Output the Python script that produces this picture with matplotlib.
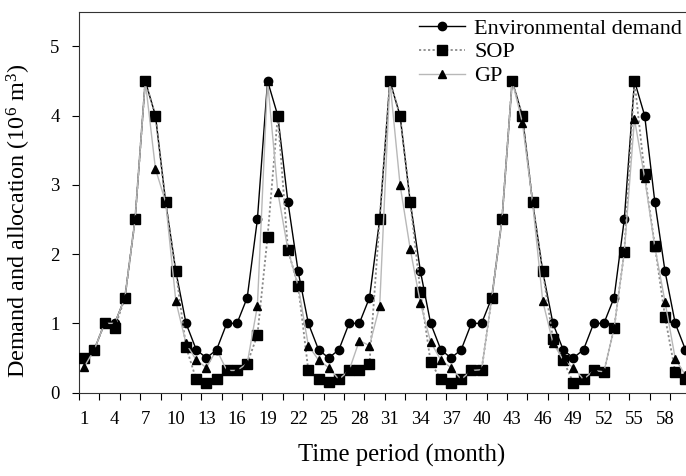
import matplotlib
matplotlib.use("Agg")
import matplotlib.pyplot as plt
import numpy as np

plt.rcParams['font.family'] = ['Liberation Serif', 'DejaVu Serif']
plt.rcParams['mathtext.fontset'] = 'custom'
plt.rcParams['mathtext.rm'] = 'Liberation Serif'
plt.rcParams['mathtext.it'] = 'Liberation Serif:italic'

months = list(range(1, 61))

demand = [0.5, 0.62, 1.0, 1.0, 1.37, 2.5, 4.5, 4.0, 2.75, 1.75, 1.0, 0.62,
          0.5, 0.62, 1.0, 1.0, 1.37, 2.5, 4.5, 4.0, 2.75, 1.75, 1.0, 0.62,
          0.5, 0.62, 1.0, 1.0, 1.37, 2.5, 4.5, 4.0, 2.75, 1.75, 1.0, 0.62,
          0.5, 0.62, 1.0, 1.0, 1.37, 2.5, 4.5, 4.0, 2.75, 1.75, 1.0, 0.62,
          0.5, 0.62, 1.0, 1.0, 1.37, 2.5, 4.5, 4.0, 2.75, 1.75, 1.0, 0.62]

sop = [0.5, 0.62, 1.0, 0.93, 1.37, 2.5, 4.5, 4.0, 2.75, 1.75, 0.66, 0.19,
       0.14, 0.19, 0.32, 0.32, 0.42, 0.83, 2.25, 4.0, 2.06, 1.54, 0.32, 0.19,
       0.15, 0.19, 0.32, 0.32, 0.42, 2.5, 4.5, 4.0, 2.75, 1.45, 0.44, 0.19,
       0.14, 0.19, 0.32, 0.33, 1.37, 2.5, 4.5, 4.0, 2.75, 1.75, 0.78, 0.47,
       0.14, 0.19, 0.32, 0.30, 0.93, 2.03, 4.5, 3.15, 2.12, 1.09, 0.30, 0.20]

gp = [0.37, 0.62, 1.0, 1.0, 1.37, 2.5, 4.5, 3.23, 2.75, 1.32, 0.71, 0.47,
      0.36, 0.62, 0.32, 0.32, 0.42, 1.25, 4.5, 2.9, 2.06, 1.54, 0.68, 0.47,
      0.36, 0.19, 0.32, 0.75, 0.68, 1.25, 4.5, 3.0, 2.07, 1.29, 0.73, 0.47,
      0.36, 0.19, 0.32, 0.33, 1.37, 2.5, 4.5, 3.9, 2.75, 1.32, 0.72, 0.47,
      0.36, 0.19, 0.32, 0.30, 0.93, 2.03, 3.95, 3.1, 2.1, 1.31, 0.49, 0.25]

label_months = list(range(1, 60, 3))

fig = plt.figure(figsize=(6.86, 4.76), dpi=100)
ax = fig.add_axes([0.1152, 0.1752, 0.8914, 0.8002])

ax.plot(months, demand, color='black', lw=1.0, marker='o', ms=6,
        mfc='black', mec='black', label='Environmental demand', zorder=3)
ax.plot(months, sop, color='#8a8a8a', lw=1.3, ls=(0, (1.2, 1.3)), marker='s', ms=6.5,
        mfc='black', mec='black', label='SOP', zorder=4)
ax.plot(months, gp, color='#b8b8b8', lw=1.0, marker='^', ms=5.5,
        mfc='black', mec='black', label='GP', zorder=5)

ax.set_xlim(0.5, 60.5)
ax.set_ylim(0, 5.5)
ax.set_xticks(label_months)
ax.set_xticklabels([str(m) for m in label_months])
ax.set_xticks(np.arange(0.5, 61, 2), minor=True)
ax.tick_params(axis='x', which='major', length=0, pad=13, labelsize=13.5)
ax.tick_params(axis='x', which='minor', length=5, width=0.8, direction='out')
ax.set_yticks([0, 1, 2, 3, 4, 5])
ax.tick_params(axis='y', which='major', length=5, width=0.8, direction='out', labelsize=13.5, pad=9)

for s in ax.spines.values():
    s.set_linewidth(0.8)
    s.set_color('#333333')

ax.set_xlabel('Time period (month)', fontsize=17.8)
ax.xaxis.set_label_coords(0.528, -0.135)
ax.set_ylabel('Demand and allocation (10$^{6}$ m$^{3}$)', fontsize=17.4)
ax.yaxis.set_label_coords(-0.076, 0.45)

leg = ax.legend(loc='upper right', bbox_to_anchor=(682 / 686, 1 - 18 / 476),
                bbox_transform=fig.transFigure, frameon=False,
                fontsize=16, handlelength=2.1, handletextpad=0.4,
                labelspacing=0.15, borderaxespad=0, borderpad=0)

fig.savefig('out.png', dpi=100)
